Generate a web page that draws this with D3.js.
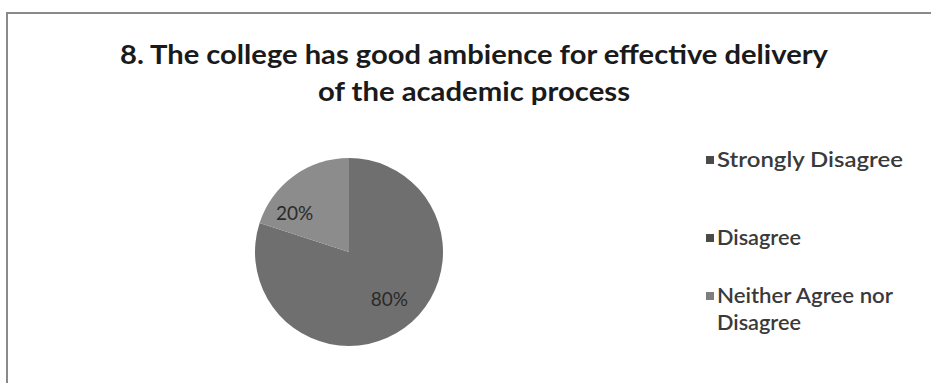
<!DOCTYPE html>
<html><head><meta charset="utf-8">
<script src="https://cdn.jsdelivr.net/npm/d3@7"></script>
<style>body{margin:0;background:#fff}</style>
</head><body>
<svg id="c" width="931" height="383"></svg>
<script>
const categories = ["Strongly Disagree", "Disagree", "Neither Agree nor Disagree"];
const values = [0, 80, 20];
const colors = ["#5e5e5e", "#6f6f6f", "#8c8c8c"];
const legendLines = [["Strongly Disagree"], ["Disagree"], ["Neither Agree nor", "Disagree"]];
const titleLines = ["8.  The college has good ambience for effective delivery", "of the academic process"];

const svg = d3.select("#c");
// frame
svg.append("path").attr("d", "M7,383 V13 H931").attr("fill", "none").attr("stroke", "#8a8a8a").attr("stroke-width", 2);

// title
const title = svg.append("text").attr("text-anchor", "middle").attr("font-family", "Lato, 'Open Sans', sans-serif")
  .attr("font-weight", "bold").attr("font-size", 27).attr("fill", "#1a1a1a");
title.selectAll("tspan").data(titleLines).join("tspan")
  .attr("x", 474).attr("y", (d, i) => 64 + i * 37).text(d => d);
title.selectAll("tspan").each(function(d, i){
  const target = i === 0 ? 708 : 312;
  d3.select(this).attr("textLength", target).attr("lengthAdjust", "spacingAndGlyphs");
});

// pie
const cx = 349, cy = 252, r = 94;
const pie = d3.pie().sort(null).value(d => d)(values);
const arc = d3.arc().innerRadius(0).outerRadius(r);
const g = svg.append("g").attr("transform", `translate(${cx},${cy})`);
g.selectAll("path").data(pie).join("path").attr("d", arc).attr("fill", (d, i) => colors[i]);
const labelArc = d3.arc().innerRadius(r * 0.66).outerRadius(r * 0.66);
g.selectAll("text").data(pie.filter(d => d.data > 0)).join("text")
  .attr("transform", d => {
    const [x, y] = labelArc.centroid(d);
    const nudge = d.data < 50 ? [-18, 12] : [4, -3];
    return `translate(${x + nudge[0]},${y + nudge[1]})`;
  })
  .attr("text-anchor", "middle").attr("dy", "0.35em")
  .attr("font-family", "Lato, sans-serif").attr("font-size", 19).attr("fill", "#2a2a2a")
  .text(d => d.data + "%");

// legend
const ly = [160, 238, 296];
const lg = svg.append("g");
categories.forEach((c, i) => {
  lg.append("rect").attr("x", 706).attr("y", ly[i] - 4).attr("width", 8).attr("height", 8).attr("fill", i === 2 ? "#7e7e7e" : "#4a4a4a");
  const t = lg.append("text").attr("font-family", "Lato, sans-serif").attr("font-size", 21).attr("font-weight", 600).attr("fill", "#3a3a3a");
  legendLines[i].forEach((line, j) => {
    const ts = t.append("tspan").attr("x", 717).attr("y", ly[i] + 7 + j * 27).text(line);
    const w = {"Strongly Disagree": 186, "Disagree": 84, "Neither Agree nor": 176}[line];
    if (w) ts.attr("textLength", w).attr("lengthAdjust", "spacingAndGlyphs");
  });
});
</script>
</body></html>
